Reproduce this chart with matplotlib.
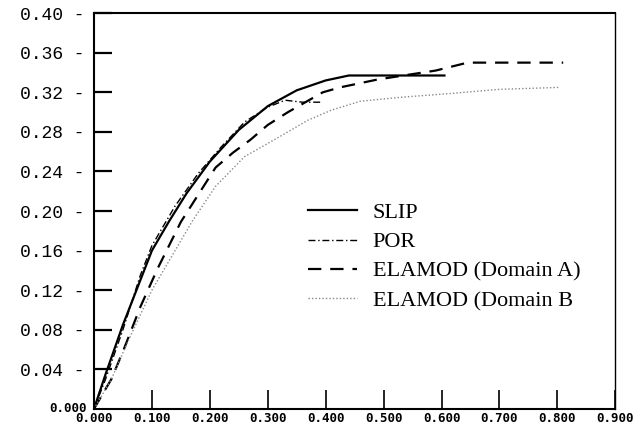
import matplotlib
matplotlib.use('Agg')
import matplotlib.pyplot as plt

# данные
slip_x = [0.0, 0.02, 0.05, 0.08, 0.10, 0.13, 0.16, 0.20, 0.25, 0.30, 0.35, 0.40, 0.44, 0.50, 0.605]
slip_y = [0.0, 0.035, 0.085, 0.13, 0.160, 0.19, 0.218, 0.25, 0.282, 0.306, 0.322, 0.332, 0.337, 0.337, 0.337]

por_x = [0.0, 0.02, 0.05, 0.08, 0.10, 0.14, 0.18, 0.22, 0.26, 0.30, 0.33, 0.36, 0.395]
por_y = [0.0, 0.03, 0.08, 0.135, 0.165, 0.205, 0.238, 0.265, 0.29, 0.305, 0.312, 0.31, 0.31]

elaA_x = [0.0, 0.03, 0.05, 0.08, 0.11, 0.15, 0.21, 0.24, 0.27, 0.30, 0.335, 0.395, 0.425, 0.49, 0.59, 0.645, 0.81]
elaA_y = [0.0, 0.03, 0.058, 0.103, 0.142, 0.189, 0.244, 0.259, 0.272, 0.287, 0.300, 0.320, 0.325, 0.333, 0.342, 0.350, 0.350]

elaB_x = [0.0, 0.03, 0.06, 0.10, 0.13, 0.17, 0.21, 0.26, 0.32, 0.37, 0.41, 0.46, 0.53, 0.62, 0.70, 0.805]
elaB_y = [0.0, 0.03, 0.07, 0.12, 0.15, 0.19, 0.225, 0.255, 0.275, 0.292, 0.302, 0.311, 0.315, 0.319, 0.323, 0.325]

labels = ['SLIP', 'POR', 'ELAMOD (Domain A)', 'ELAMOD (Domain B']

y_ticks = [0.04, 0.08, 0.12, 0.16, 0.20, 0.24, 0.28, 0.32, 0.36, 0.40]
x_ticks = [0.0, 0.1, 0.2, 0.3, 0.4, 0.5, 0.6, 0.7, 0.8, 0.9]

fig = plt.figure(figsize=(6.35, 4.25), dpi=100)
ax = fig.add_axes([0.148, 0.038, 0.821, 0.931])

ax.plot(slip_x, slip_y, color='black', lw=1.6, label=labels[0])
ax.plot(por_x, por_y, color='black', lw=1.0, dashes=(5, 2, 1, 2), label=labels[1])
ax.plot(elaA_x, elaA_y, color='black', lw=1.6, dashes=(6, 4), label=labels[2])
ax.plot(elaB_x, elaB_y, color='#888888', lw=1.0, dashes=(1, 1.5), label=labels[3])

ax.set_xlim(0, 0.9)
ax.set_ylim(0, 0.40)

# оси
for s in ax.spines.values():
    s.set_linewidth(1.5)
ax.spines['right'].set_linewidth(1.0)

ax.set_yticks(y_ticks)
ax.set_yticklabels(['%.2f -' % v for v in y_ticks], family='Liberation Mono', fontsize=13)
ax.tick_params(axis='y', direction='in', length=13, width=1.6, pad=7)

ax.set_xticks(x_ticks)
ax.set_xticklabels(['%.3f' % v for v in x_ticks], family='DejaVu Sans Mono', fontweight='bold',
                   fontsize=9)
ax.tick_params(axis='x', direction='in', length=14, width=1.2, pad=2)
ax.text(-0.012, 0.0, '0.000', transform=ax.transData, ha='right', va='center',
        family='DejaVu Sans Mono', fontsize=9, fontweight='bold')

ax.legend(loc='upper left', bbox_to_anchor=(0.39, 0.55), frameon=False,
          prop={'family': 'Liberation Serif', 'size': 16},
          handlelength=2.2, handletextpad=0.7, labelspacing=0.4, borderpad=0)

plt.savefig('out.png', dpi=100)
